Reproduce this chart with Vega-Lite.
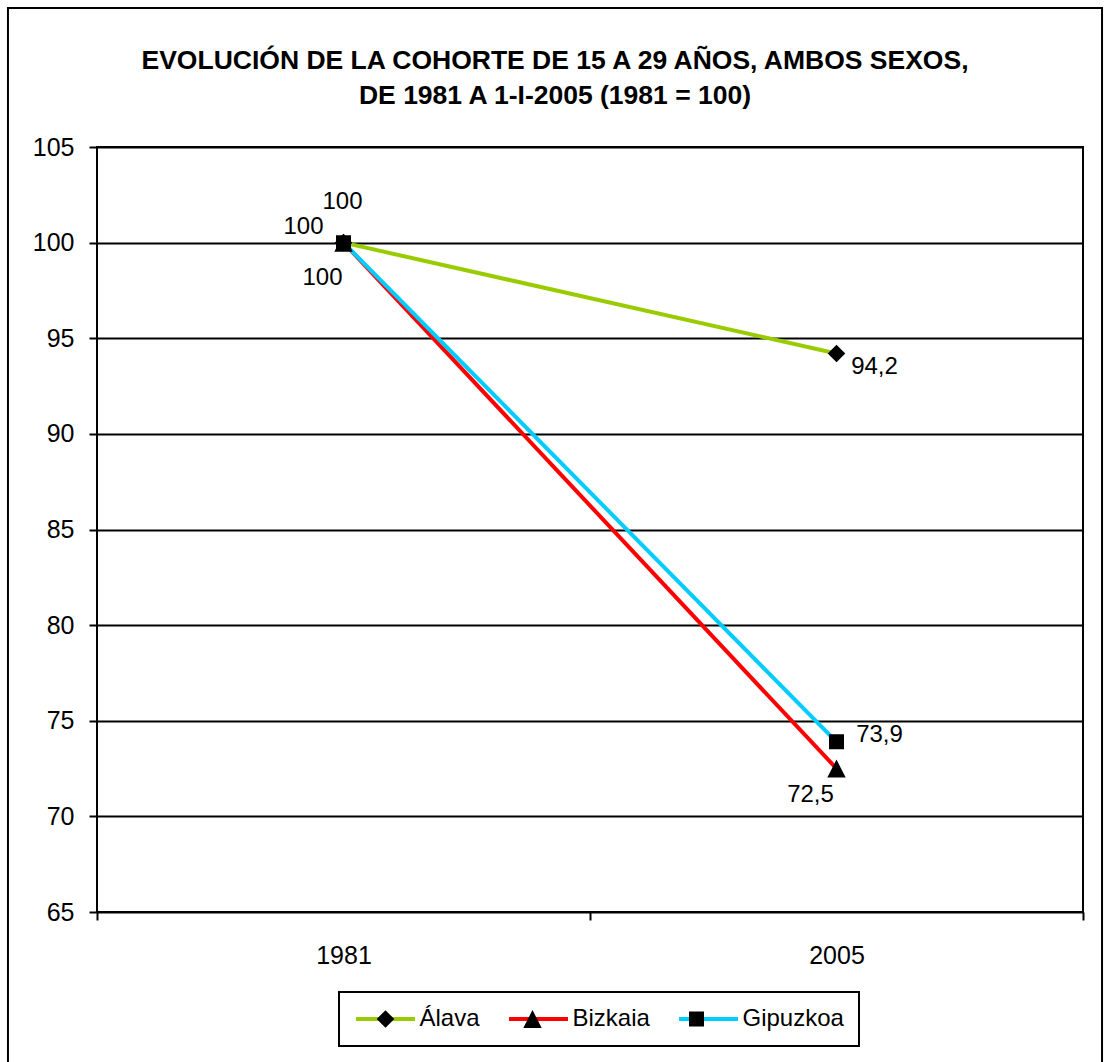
{
  "$schema": "https://vega.github.io/schema/vega-lite/v6.json",
  "width": 986,
  "height": 765,
  "autosize": {"type": "none"},
  "padding": {"left": 97, "top": 147, "right": 21, "bottom": 150},
  "background": "white",
  "title": {
    "text": ["EVOLUCIÓN DE LA COHORTE DE 15 A 29 AÑOS, AMBOS SEXOS,", "DE 1981 A 1-I-2005 (1981 = 100)"],
    "font": "Liberation Sans",
    "fontSize": 26.5,
    "fontWeight": "bold",
    "color": "black",
    "anchor": "middle",
    "frame": "bounds",
    "offset": -103,
    "lineHeight": 35
  },
  "config": {
    "locale": {"number": {"decimal": ",", "thousands": ".", "grouping": [3], "currency": ["", " €"]}},
    "font": "Liberation Sans",
    "view": {"stroke": "black", "strokeWidth": 2},
    "legend": {"strokeWidth": 2}
  },
  "datasets": {
    "cohorte": [
      {"serie": "Álava", "anio": "1981", "valor": 100},
      {"serie": "Álava", "anio": "2005", "valor": 94.2},
      {"serie": "Bizkaia", "anio": "1981", "valor": 100},
      {"serie": "Bizkaia", "anio": "2005", "valor": 72.5},
      {"serie": "Gipuzkoa", "anio": "1981", "valor": 100},
      {"serie": "Gipuzkoa", "anio": "2005", "valor": 73.9}
    ]
  },
  "resolve": {"scale": {"x": "independent", "y": "independent"}},
  "layer": [
    {
      "data": {"values": [{"marco": "borde"}]},
      "mark": {"type": "rect", "filled": false, "fill": "transparent", "fillOpacity": 0, "stroke": "black", "strokeWidth": 2},
      "encoding": {
        "x": {"datum": -0.0903, "type": "quantitative", "scale": {"domain": [0, 1], "nice": false, "zero": false}, "axis": null},
        "x2": {"datum": 1.0193},
        "y": {"datum": 1.1817, "type": "quantitative", "scale": {"domain": [0, 1], "nice": false, "zero": false}, "axis": null},
        "y2": {"datum": -0.2248}
      }
    },
    {
      "data": {"name": "cohorte"},
      "encoding": {
        "x": {
          "field": "anio", "type": "nominal",
          "scale": {"type": "band", "paddingInner": 0, "paddingOuter": 0},
          "axis": {"title": null, "labelAngle": 0, "tickBand": "extent", "domain": false, "ticks": true, "tickSize": 8, "tickWidth": 2, "tickColor": "black", "labelFontSize": 25, "labelColor": "black", "labelPadding": 23, "grid": false}
        },
        "y": {
          "field": "valor", "type": "quantitative",
          "scale": {"domain": [65, 105], "nice": false, "zero": false},
          "axis": {"title": null, "orient": "left", "values": [65, 70, 75, 80, 85, 90, 95, 100, 105], "tickSize": 8, "tickWidth": 2, "tickColor": "black", "grid": true, "gridColor": "black", "gridWidth": 2, "gridOpacity": 1, "labelFontSize": 25, "labelColor": "black", "labelPadding": 15, "domain": false}
        }
      },
      "layer": [
        {
          "mark": {"type": "line", "strokeWidth": 4},
          "encoding": {
            "color": {
              "field": "serie", "type": "nominal",
              "scale": {"domain": ["Álava", "Bizkaia", "Gipuzkoa"], "range": ["#99CC00", "#FF0000", "#00CCFF"]},
              "legend": {"title": null, "orient": "none", "legendX": 242, "legendY": 845, "direction": "horizontal", "columns": 3, "symbolType": "M-2.95,0H2.95", "symbolSize": 400, "symbolStrokeWidth": 4, "symbolOffset": 19.5, "labelOffset": 22, "labelFontSize": 24, "labelColor": "black", "columnPadding": 21, "padding": 15, "strokeColor": "black", "fillColor": "white"}
            }
          }
        },
        {
          "mark": {"type": "point", "filled": true, "color": "black", "opacity": 1, "size": 400, "strokeWidth": 0},
          "encoding": {
            "shape": {
              "field": "serie", "type": "nominal", "sort": ["Álava", "Bizkaia", "Gipuzkoa"],
              "scale": {"range": ["M-2.95,0H2.95M0,-0.88L0.88,0L0,0.88L-0.88,0Z", "M-2.95,0H2.95M0,-0.9L0.92,0.9H-0.92Z", "M-2.95,0H2.95M-0.75,-0.75H0.75V0.75H-0.75Z"]},
              "legend": {"title": null, "orient": "none", "legendX": 242, "legendY": 845, "direction": "horizontal", "columns": 3, "symbolSize": 400, "symbolOffset": 19.5, "labelOffset": 22, "labelFontSize": 24, "labelOpacity": 0, "columnPadding": 21, "padding": 15, "symbolFillColor": "black", "symbolStrokeWidth": 0}
            }
          }
        },
        {
          "transform": [{"filter": "datum.serie === 'Álava' && datum.anio === '1981'"}],
          "mark": {"type": "text", "fontSize": 24, "color": "black", "align": "center", "baseline": "middle", "dx": -1, "dy": -41},
          "encoding": {"text": {"field": "valor", "type": "quantitative", "format": ".1~f"}}
        },
        {
          "transform": [{"filter": "datum.serie === 'Gipuzkoa' && datum.anio === '1981'"}],
          "mark": {"type": "text", "fontSize": 24, "color": "black", "align": "center", "baseline": "middle", "dx": -40, "dy": -16},
          "encoding": {"text": {"field": "valor", "type": "quantitative", "format": ".1~f"}}
        },
        {
          "transform": [{"filter": "datum.serie === 'Bizkaia' && datum.anio === '1981'"}],
          "mark": {"type": "text", "fontSize": 24, "color": "black", "align": "center", "baseline": "middle", "dx": -21, "dy": 35},
          "encoding": {"text": {"field": "valor", "type": "quantitative", "format": ".1~f"}}
        },
        {
          "transform": [{"filter": "datum.serie === 'Álava' && datum.anio === '2005'"}],
          "mark": {"type": "text", "fontSize": 24, "color": "black", "align": "center", "baseline": "middle", "dx": 38, "dy": 13},
          "encoding": {"text": {"field": "valor", "type": "quantitative", "format": ".1~f"}}
        },
        {
          "transform": [{"filter": "datum.serie === 'Gipuzkoa' && datum.anio === '2005'"}],
          "mark": {"type": "text", "fontSize": 24, "color": "black", "align": "center", "baseline": "middle", "dx": 43, "dy": -7},
          "encoding": {"text": {"field": "valor", "type": "quantitative", "format": ".1~f"}}
        },
        {
          "transform": [{"filter": "datum.serie === 'Bizkaia' && datum.anio === '2005'"}],
          "mark": {"type": "text", "fontSize": 24, "color": "black", "align": "center", "baseline": "middle", "dx": -26, "dy": 26},
          "encoding": {"text": {"field": "valor", "type": "quantitative", "format": ".1~f"}}
        }
      ]
    }
  ]
}
